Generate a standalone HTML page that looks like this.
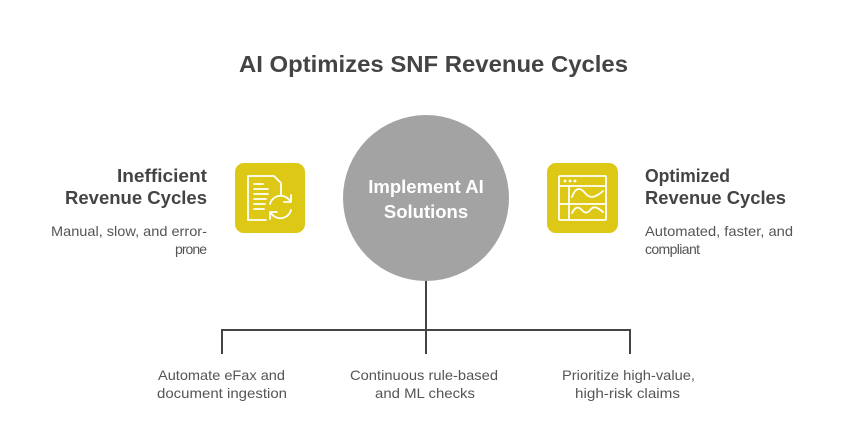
<!DOCTYPE html>
<html>
<head>
<meta charset="utf-8">
<style>
  html,body{margin:0;padding:0;background:#fff;}
  svg{display:block;}
  text{font-family:"Liberation Sans",Arial,sans-serif;}
</style>
</head>
<body>
<svg width="858" height="425" viewBox="0 0 858 425" xmlns="http://www.w3.org/2000/svg">
  <rect width="858" height="425" fill="#fff"/>

  <!-- Title -->
  <text x="433.5" y="72" text-anchor="middle" font-size="23" font-weight="bold" fill="#444" textLength="389" lengthAdjust="spacingAndGlyphs">AI Optimizes SNF Revenue Cycles</text>

  <!-- Connectors -->
  <g stroke="#444" stroke-width="2" fill="none">
    <line x1="426" y1="280" x2="426" y2="354"/>
    <polyline points="222,354 222,330 630,330 630,354"/>
  </g>

  <!-- Center circle -->
  <circle cx="426" cy="198" r="83" fill="#A3A3A3"/>
  <text x="426" y="193" text-anchor="middle" font-size="18.5" font-weight="bold" fill="#fff">Implement AI</text>
  <text x="426" y="218" text-anchor="middle" font-size="18.5" font-weight="bold" fill="#fff">Solutions</text>

  <!-- Left icon -->
  <rect x="235" y="163" width="70" height="70" rx="9" fill="#DEC816"/>
  <g stroke="#fff" stroke-width="1.8" fill="none" stroke-linecap="round" stroke-linejoin="round">
    <path d="M266 220 H248 V176 H274 L281 183 V195"/>
    <line x1="254" y1="184" x2="263" y2="184"/>
    <line x1="254" y1="189" x2="268" y2="189"/>
    <line x1="254" y1="194" x2="268" y2="194"/>
    <line x1="254" y1="199" x2="266" y2="199"/>
    <line x1="254" y1="204" x2="265" y2="204"/>
    <line x1="254" y1="209" x2="264" y2="209"/>
    <path d="M270 204 A11 11 0 0 1 290 201"/>
    <polyline points="291,195 291,202 284,202"/>
    <path d="M291 210 A11 11 0 0 1 271 213"/>
    <polyline points="270,219 270,212 277,212"/>
  </g>

  <!-- Right icon -->
  <rect x="547" y="163" width="71" height="70" rx="9" fill="#DEC816"/>
  <g stroke="#fff" stroke-width="1.8" fill="none" stroke-linecap="round" stroke-linejoin="round">
    <rect x="559" y="176" width="47" height="44" rx="1"/>
    <line x1="559" y1="186" x2="606" y2="186"/>
    <line x1="569" y1="186" x2="569" y2="220"/>
    <line x1="559" y1="204" x2="606" y2="204"/>
    <path d="M572 197 C576 186, 581 188, 585 193 C589 198, 594 199, 603 191"/>
    <path d="M572 213 C575 207, 578 206, 582 210 C585 214, 588 213, 591 209 C594 206, 597 207, 603 212"/>
  </g>
  <g fill="#fff">
    <circle cx="565" cy="181" r="1.4"/>
    <circle cx="570" cy="181" r="1.4"/>
    <circle cx="575" cy="181" r="1.4"/>
  </g>

  <!-- Left text -->
  <text x="207" y="182" text-anchor="end" font-size="18.5" font-weight="bold" fill="#444" textLength="90" lengthAdjust="spacingAndGlyphs">Inefficient</text>
  <text x="207" y="204" text-anchor="end" font-size="18.5" font-weight="bold" fill="#444" textLength="142" lengthAdjust="spacingAndGlyphs">Revenue Cycles</text>
  <text x="207" y="236" text-anchor="end" font-size="14" fill="#555" textLength="156" lengthAdjust="spacingAndGlyphs">Manual, slow, and error-</text>
  <text x="207" y="254" text-anchor="end" font-size="14" fill="#555" textLength="32" lengthAdjust="spacing">prone</text>

  <!-- Right text -->
  <text x="645" y="182" font-size="18.5" font-weight="bold" fill="#444" textLength="85" lengthAdjust="spacingAndGlyphs">Optimized</text>
  <text x="645" y="204" font-size="18.5" font-weight="bold" fill="#444" textLength="141" lengthAdjust="spacingAndGlyphs">Revenue Cycles</text>
  <text x="645" y="236" font-size="14" fill="#555" textLength="148" lengthAdjust="spacingAndGlyphs">Automated, faster, and</text>
  <text x="645" y="254" font-size="14" fill="#555" textLength="55" lengthAdjust="spacing">compliant</text>

  <!-- Bottom labels -->
  <text x="221.5" y="380" text-anchor="middle" font-size="14" fill="#555" textLength="127" lengthAdjust="spacingAndGlyphs">Automate eFax and</text>
  <text x="222" y="398" text-anchor="middle" font-size="14" fill="#555" textLength="130" lengthAdjust="spacingAndGlyphs">document ingestion</text>

  <text x="424" y="380" text-anchor="middle" font-size="14" fill="#555" textLength="148" lengthAdjust="spacingAndGlyphs">Continuous rule-based</text>
  <text x="425" y="398" text-anchor="middle" font-size="14" fill="#555" textLength="100" lengthAdjust="spacingAndGlyphs">and ML checks</text>

  <text x="628.5" y="380" text-anchor="middle" font-size="14" fill="#555" textLength="133" lengthAdjust="spacingAndGlyphs">Prioritize high-value,</text>
  <text x="627.5" y="398" text-anchor="middle" font-size="14" fill="#555" textLength="105" lengthAdjust="spacingAndGlyphs">high-risk claims</text>
</svg>
</body>
</html>
